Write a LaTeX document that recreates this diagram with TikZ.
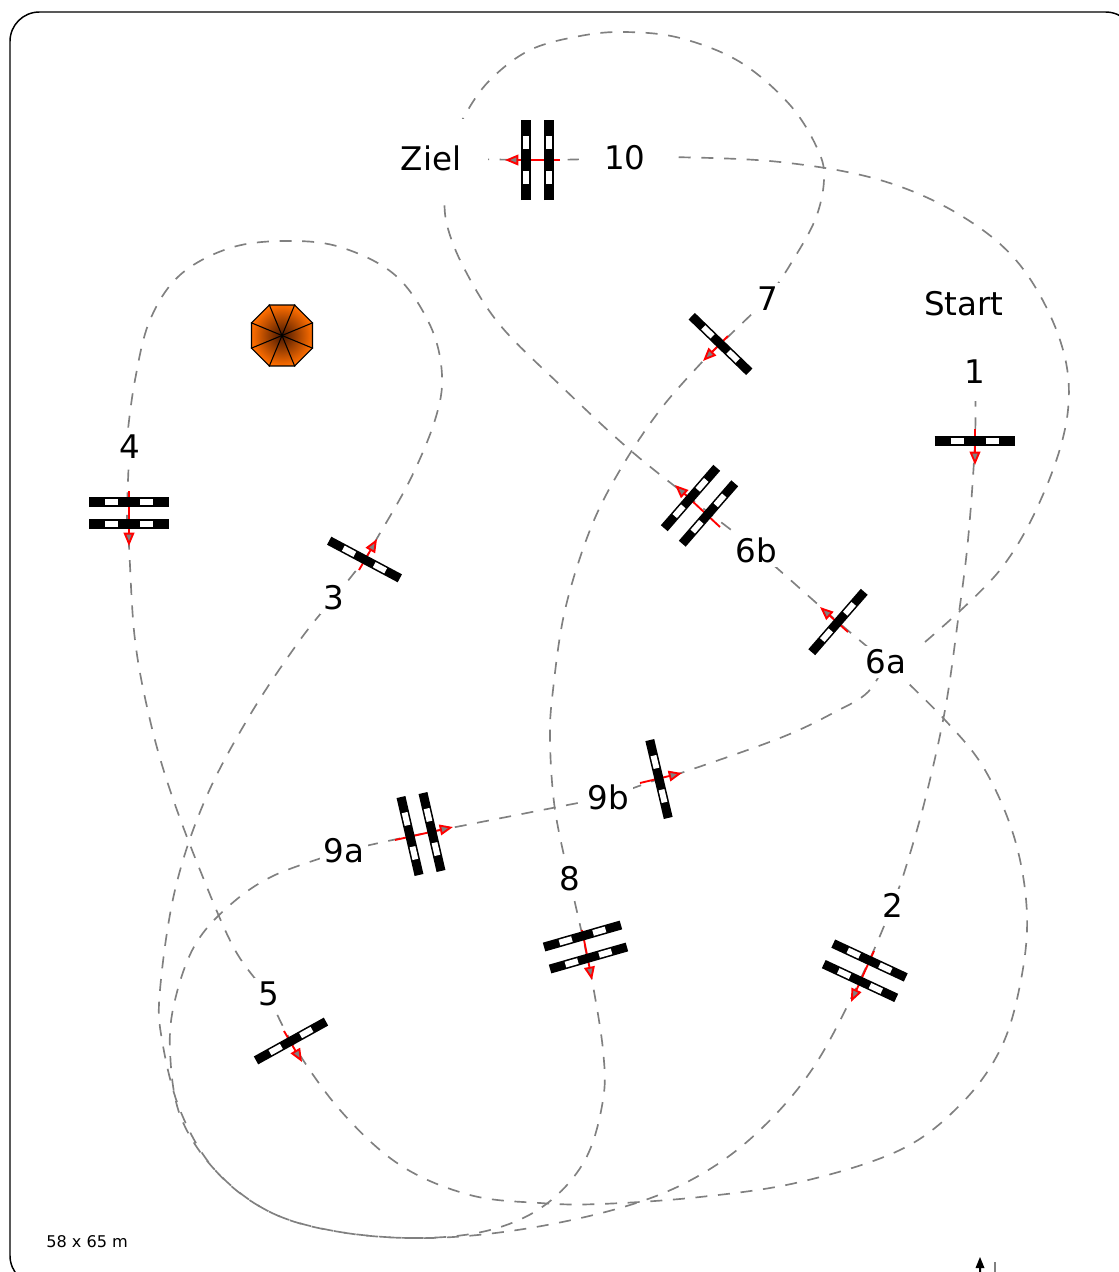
\documentclass[tikz,border=0pt]{standalone}
\usepackage{fontspec}
\setmainfont{DejaVu Sans}
\usetikzlibrary{arrows.meta,shapes.geometric,backgrounds}
\definecolor{umbrellaout}{RGB}{255,110,0}
\definecolor{umbrellain}{RGB}{70,22,0}
\tikzset{
	lab/.style={fill=white,font=\fontsize{24.4}{28}\selectfont,inner sep=3pt},
	trackline/.style={draw=gray,line width=1.25pt,dash pattern=on 9pt off 8pt},
	gatearrow/.style={draw=red,line width=1.4pt,-{Triangle[length=10pt,width=8pt,fill=gray]}},
	pics/gatebar/.style={code={
		\draw[black,line width=6.8pt] (-40,0) -- (40,0);
		\draw[white,line width=4.4pt] (-24,0) -- (-11,0) (11,0) -- (24,0);
	}}
}
\begin{document}
\begin{tikzpicture}[x=0.75pt,y=-0.75pt]
	\useasboundingbox (0,0) rectangle (1119,1272);
	\clip (0,0) rectangle (1119,1272);
	\node[lab,inner sep=13pt] at (975,372) (lab1) {1};
	\node[lab] at (892.5,905) (lab2) {2};
	\node[lab] at (334,598) (lab3) {3};
	\node[lab] at (129.5,447) (lab4) {4};
	\node[lab] at (268.5,994) (lab5) {5};
	\node[lab] at (886,662) (lab6a) {6a};
	\node[lab] at (756,550) (lab6b) {6b};
	\node[lab] at (767.5,299) (lab7) {7};
	\node[lab] at (569.5,879) (lab8) {8};
	\node[lab] at (344,851) (lab9a) {9a};
	\node[lab] at (608.5,797) (lab9b) {9b};
	\node[lab,inner sep=19pt] at (625,158) (lab10) {10};
	\node[lab,inner sep=20pt] at (431,158) (ziel) {Ziel};
	\node[font=\fontsize{24.4}{28}\selectfont] at (964,304) (start) {Start};
	\node[font=\fontsize{12.1}{14}\selectfont,anchor=west,inner sep=0pt] at (46,1242) (size) {58 x 65 m};
	\coordinate (g1) at (975,441);
	\coordinate (g2) at (864.5,970.5);
	\coordinate (g3) at (364.5,559.5);
	\coordinate (g4) at (127,513);
	\coordinate (g5) at (291,1041);
	\coordinate (g6a) at (838,622);
	\coordinate (g6b) at (699.5,505.5);
	\coordinate (g7) at (720.5,344);
	\coordinate (g8) at (585,947);
	\coordinate (g9a) at (421,834);
	\coordinate (g9b) at (659,779);
	\coordinate (g10) at (537.5,160);
	\coordinate (out6a) at (925,642);
	\begin{pgfonlayer}{background}
		\draw[trackline] plot[smooth,tension=0.6] coordinates {(lab1) (g1) (968,540) (958,620) (945,710) (925,800) (905,870) (lab2)};
		\draw[trackline] plot[smooth,tension=0.6] coordinates {(lab2) (g2) (815,1065) (760,1130) (700,1175) (630,1205) (530,1228) (430,1238) (340,1232) (270,1212) (215,1170) (180,1110) (162,1040) (160,990) (175,890) (205,800) (250,715) (300,640) (lab3)};
		\draw[trackline] plot[smooth,tension=0.6] coordinates {(lab3) (g3) (376,540) (410,480) (435,420) (442,375) (430,325) (395,275) (340,247) (285,241) (230,248) (180,275) (150,320) (135,380) (127,440) (lab4)};
		\draw[trackline] plot[smooth,tension=0.6] coordinates {(lab4) (g4) (129,546) (135,640) (150,720) (170,790) (200,870) (235,950) (lab5)};
		\draw[trackline] plot[smooth,tension=0.6] coordinates {(lab5) (g5) (340,1110) (400,1165) (470,1195) (540,1203) (600,1204) (700,1197) (800,1182) (900,1150) (960,1105) (1000,1050) (1020,985) (1027,915) (1015,840) (985,770) (945,720) (lab6a)};
		\draw[trackline] plot[smooth,tension=0.6] coordinates {(lab6a) (g6a) (lab6b) (g6b) (630,450) (560,385) (500,325) (465,270) (447,225) (445,190) (450,150) (465,115) (490,80) (530,50) (580,36) (625,32) (680,38) (740,62) (790,105) (818,150) (824,180) (815,220) (790,265) (lab7)};
		\draw[trackline] plot[smooth,tension=0.6] coordinates {(lab7) (g7) (703,361) (660,410) (620,470) (590,530) (565,610) (553,690) (550,740) (555,810) (lab8)};
		\draw[trackline] plot[smooth,tension=0.6] coordinates {(lab8) (g8) (592,980) (603,1050) (603,1100) (585,1160) (545,1205) (490,1230) (420,1238) (340,1232) (270,1212) (215,1170) (180,1115) (170,1050) (175,1000) (195,945) (230,905) (275,875) (lab9a)};
		\draw[trackline] plot[smooth,tension=0.6] coordinates {(lab9a) (g9a) (lab9b)};
		\draw[trackline] plot[smooth,tension=0.6] coordinates {(lab9b) (g9b) (681,773) (780,738) (835,712) (868,692) (lab6a)};
		\draw[trackline] plot[smooth,tension=0.6] coordinates {(out6a) (1000,570) (1045,490) (1068,410) (1060,340) (1020,265) (960,215) (880,180) (780,162) (670,157) (lab10)};
		\draw[trackline] plot[smooth,tension=0.6] coordinates {(lab10) (g10) (ziel)};
		\draw[black,line width=1.1pt,rounded corners=22pt] (10,12) rectangle (1135,1285);
	\end{pgfonlayer}
	\coordinate (a1) at (975,429);
	\coordinate (b1) at (975,465);
	\coordinate (a2) at (874,951);
	\coordinate (b2) at (851,1002);
	\coordinate (a3) at (359,570);
	\coordinate (b3) at (377,539);
	\coordinate (a4) at (129,491);
	\coordinate (b4) at (129,546);
	\coordinate (a5) at (284,1031);
	\coordinate (b5) at (302,1062);
	\coordinate (a6a) at (848,632);
	\coordinate (b6a) at (820,607);
	\coordinate (a6b) at (720,527);
	\coordinate (b6b) at (675,485);
	\coordinate (a7) at (728,336);
	\coordinate (b7) at (703,361);
	\coordinate (a8) at (582,930);
	\coordinate (b8) at (592,980);
	\coordinate (a9a) at (395,840);
	\coordinate (b9a) at (453,827);
	\coordinate (a9b) at (640,783);
	\coordinate (b9b) at (682,773);
	\coordinate (a10) at (560,160);
	\coordinate (b10) at (505,160);
	\foreach \g in {1,2,3,4,5,6a,6b,7,8,9a,9b,10}
		\draw[gatearrow] (a\g) -- (b\g);
	\pic at (974.5,441) {gatebar};
	\pic at (869.5,960.5) [rotate=-25] {gatebar};
	\pic at (860,981) [rotate=-25] {gatebar};
	\pic at (g3) [rotate=-28] {gatebar};
	\pic at (129,502) {gatebar};
	\pic at (129,524) {gatebar};
	\pic at (291,1041) [rotate=29] {gatebar};
	\pic at (g6a) [rotate=49] {gatebar};
	\pic at (690.5,498) [rotate=49] {gatebar};
	\pic at (708.5,513.5) [rotate=49] {gatebar};
	\pic at (g7) [rotate=-44] {gatebar};
	\pic at (582.5,936) [rotate=16] {gatebar};
	\pic at (588.5,958) [rotate=16] {gatebar};
	\pic at (410,836) [rotate=-77] {gatebar};
	\pic at (432,832) [rotate=-77] {gatebar};
	\pic at (g9b) [rotate=-76.7] {gatebar};
	\pic at (526,160) [rotate=90] {gatebar};
	\pic at (549,160) [rotate=90] {gatebar};
	\node[regular polygon,regular polygon sides=8,minimum size=49.5pt,inner sep=0pt,draw=black,line width=0.9pt,inner color=umbrellain,outer color=umbrellaout] at (282,335.5) (umbrella) {};
	\foreach \i in {1,...,8}
		\draw[line width=0.8pt] (umbrella.center) -- (umbrella.corner \i);
	\fill[black] (980,1257) -- (984.5,1268) -- (981,1268) -- (981,1272) -- (979,1272) -- (979,1268) -- (975.5,1268) -- cycle;
	\draw[gray,line width=1.2pt] (995,1262) -- (995,1272);
\end{tikzpicture}
\end{document}
